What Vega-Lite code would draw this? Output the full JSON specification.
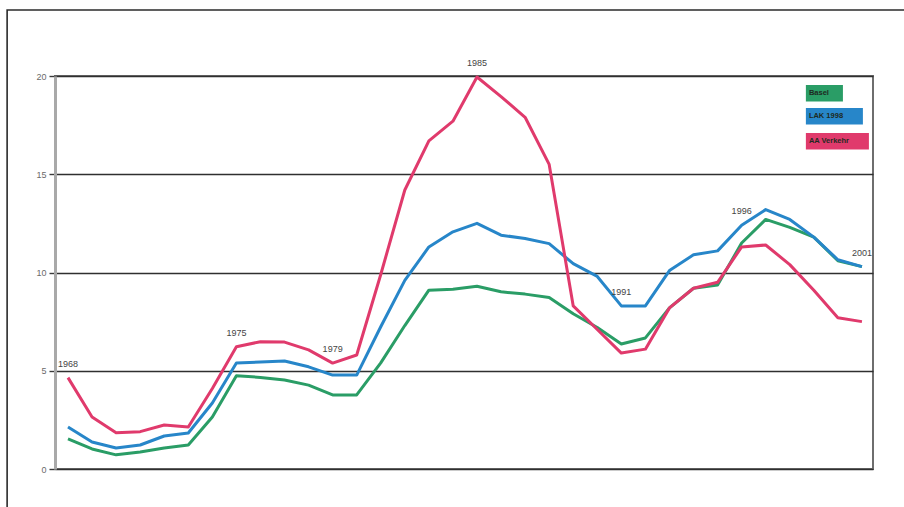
{
  "$schema": "https://vega.github.io/schema/vega-lite/v6.json",
  "width": 818,
  "height": 393,
  "autosize": {"type": "none"},
  "padding": {"left": 55, "top": 76, "right": 31, "bottom": 38},
  "background": "white",
  "config": {
    "font": "Liberation Sans",
    "view": {"stroke": "#6e6e6e", "strokeWidth": 2}
  },
  "datasets": {
    "rates": [
      {"year": 1968, "series": "Basel", "value": 1.53}, {"year": 1969, "series": "Basel", "value": 1.02},
      {"year": 1970, "series": "Basel", "value": 0.72}, {"year": 1971, "series": "Basel", "value": 0.87},
      {"year": 1972, "series": "Basel", "value": 1.07}, {"year": 1973, "series": "Basel", "value": 1.22},
      {"year": 1974, "series": "Basel", "value": 2.65}, {"year": 1975, "series": "Basel", "value": 4.75},
      {"year": 1976, "series": "Basel", "value": 4.66}, {"year": 1977, "series": "Basel", "value": 4.53},
      {"year": 1978, "series": "Basel", "value": 4.27}, {"year": 1979, "series": "Basel", "value": 3.77},
      {"year": 1980, "series": "Basel", "value": 3.77}, {"year": 1981, "series": "Basel", "value": 5.4},
      {"year": 1982, "series": "Basel", "value": 7.3}, {"year": 1983, "series": "Basel", "value": 9.1},
      {"year": 1984, "series": "Basel", "value": 9.15}, {"year": 1985, "series": "Basel", "value": 9.3},
      {"year": 1986, "series": "Basel", "value": 9.02}, {"year": 1987, "series": "Basel", "value": 8.9},
      {"year": 1988, "series": "Basel", "value": 8.73}, {"year": 1989, "series": "Basel", "value": 7.9},
      {"year": 1990, "series": "Basel", "value": 7.2}, {"year": 1991, "series": "Basel", "value": 6.36},
      {"year": 1992, "series": "Basel", "value": 6.67}, {"year": 1993, "series": "Basel", "value": 8.2},
      {"year": 1994, "series": "Basel", "value": 9.2}, {"year": 1995, "series": "Basel", "value": 9.36},
      {"year": 1996, "series": "Basel", "value": 11.5}, {"year": 1997, "series": "Basel", "value": 12.7},
      {"year": 1998, "series": "Basel", "value": 12.3}, {"year": 1999, "series": "Basel", "value": 11.8},
      {"year": 2000, "series": "Basel", "value": 10.6}, {"year": 2001, "series": "Basel", "value": 10.3},

      {"year": 1968, "series": "LAK 1998", "value": 2.14}, {"year": 1969, "series": "LAK 1998", "value": 1.37},
      {"year": 1970, "series": "LAK 1998", "value": 1.07}, {"year": 1971, "series": "LAK 1998", "value": 1.22},
      {"year": 1972, "series": "LAK 1998", "value": 1.68}, {"year": 1973, "series": "LAK 1998", "value": 1.83},
      {"year": 1974, "series": "LAK 1998", "value": 3.36}, {"year": 1975, "series": "LAK 1998", "value": 5.39},
      {"year": 1976, "series": "LAK 1998", "value": 5.44}, {"year": 1977, "series": "LAK 1998", "value": 5.5},
      {"year": 1978, "series": "LAK 1998", "value": 5.2}, {"year": 1979, "series": "LAK 1998", "value": 4.78},
      {"year": 1980, "series": "LAK 1998", "value": 4.78}, {"year": 1981, "series": "LAK 1998", "value": 7.24},
      {"year": 1982, "series": "LAK 1998", "value": 9.6}, {"year": 1983, "series": "LAK 1998", "value": 11.3},
      {"year": 1984, "series": "LAK 1998", "value": 12.07}, {"year": 1985, "series": "LAK 1998", "value": 12.5},
      {"year": 1986, "series": "LAK 1998", "value": 11.9}, {"year": 1987, "series": "LAK 1998", "value": 11.73},
      {"year": 1988, "series": "LAK 1998", "value": 11.47}, {"year": 1989, "series": "LAK 1998", "value": 10.45},
      {"year": 1990, "series": "LAK 1998", "value": 9.8}, {"year": 1991, "series": "LAK 1998", "value": 8.3},
      {"year": 1992, "series": "LAK 1998", "value": 8.3}, {"year": 1993, "series": "LAK 1998", "value": 10.1},
      {"year": 1994, "series": "LAK 1998", "value": 10.9}, {"year": 1995, "series": "LAK 1998", "value": 11.1},
      {"year": 1996, "series": "LAK 1998", "value": 12.4}, {"year": 1997, "series": "LAK 1998", "value": 13.2},
      {"year": 1998, "series": "LAK 1998", "value": 12.7}, {"year": 1999, "series": "LAK 1998", "value": 11.8},
      {"year": 2000, "series": "LAK 1998", "value": 10.65}, {"year": 2001, "series": "LAK 1998", "value": 10.3},

      {"year": 1968, "series": "AA Verkehr", "value": 4.65}, {"year": 1969, "series": "AA Verkehr", "value": 2.65},
      {"year": 1970, "series": "AA Verkehr", "value": 1.85}, {"year": 1971, "series": "AA Verkehr", "value": 1.9},
      {"year": 1972, "series": "AA Verkehr", "value": 2.24}, {"year": 1973, "series": "AA Verkehr", "value": 2.14},
      {"year": 1974, "series": "AA Verkehr", "value": 4.1}, {"year": 1975, "series": "AA Verkehr", "value": 6.22},
      {"year": 1976, "series": "AA Verkehr", "value": 6.48}, {"year": 1977, "series": "AA Verkehr", "value": 6.46},
      {"year": 1978, "series": "AA Verkehr", "value": 6.06}, {"year": 1979, "series": "AA Verkehr", "value": 5.39},
      {"year": 1980, "series": "AA Verkehr", "value": 5.8}, {"year": 1981, "series": "AA Verkehr", "value": 9.9},
      {"year": 1982, "series": "AA Verkehr", "value": 14.2}, {"year": 1983, "series": "AA Verkehr", "value": 16.7},
      {"year": 1984, "series": "AA Verkehr", "value": 17.7}, {"year": 1985, "series": "AA Verkehr", "value": 19.95},
      {"year": 1986, "series": "AA Verkehr", "value": 18.95}, {"year": 1987, "series": "AA Verkehr", "value": 17.9},
      {"year": 1988, "series": "AA Verkehr", "value": 15.5}, {"year": 1989, "series": "AA Verkehr", "value": 8.3},
      {"year": 1990, "series": "AA Verkehr", "value": 7.1}, {"year": 1991, "series": "AA Verkehr", "value": 5.9},
      {"year": 1992, "series": "AA Verkehr", "value": 6.1}, {"year": 1993, "series": "AA Verkehr", "value": 8.2},
      {"year": 1994, "series": "AA Verkehr", "value": 9.2}, {"year": 1995, "series": "AA Verkehr", "value": 9.5},
      {"year": 1996, "series": "AA Verkehr", "value": 11.3}, {"year": 1997, "series": "AA Verkehr", "value": 11.4},
      {"year": 1998, "series": "AA Verkehr", "value": 10.4}, {"year": 1999, "series": "AA Verkehr", "value": 9.1},
      {"year": 2000, "series": "AA Verkehr", "value": 7.7}, {"year": 2001, "series": "AA Verkehr", "value": 7.5}
    ],
    "keys": [{"series": "Basel"}, {"series": "LAK 1998"}, {"series": "AA Verkehr"}]
  },
  "layer": [
    {
      "data": {"values": [{"frame": 1}]},
      "transform": [
        {"calculate": "1965.47", "as": "left"},
        {"calculate": "2003.5", "as": "right"},
        {"calculate": "23.36", "as": "upper"},
        {"calculate": "-3", "as": "lower"}
      ],
      "mark": {"type": "rect", "filled": false, "stroke": "#2b2b2b", "strokeWidth": 1.6, "clip": false},
      "encoding": {
        "x": {"field": "left", "type": "quantitative", "scale": {"domain": [1967.46, 2001.46], "nice": false, "zero": false}, "axis": null},
        "x2": {"field": "right"},
        "y": {"field": "upper", "type": "quantitative", "scale": {"domain": [0, 20], "nice": false, "zero": true}},
        "y2": {"field": "lower"}
      }
    },
    {
      "data": {"name": "rates"},
      "mark": {"type": "line", "strokeWidth": 3, "strokeJoin": "round"},
      "encoding": {
        "x": {"field": "year", "type": "quantitative", "axis": null},
        "y": {
          "field": "value", "type": "quantitative",
          "axis": {
            "title": null, "values": [0, 5, 10, 15, 20], "format": "d",
            "grid": true, "gridColor": "#2f2f2f", "gridWidth": 1.4,
            "domainColor": "#a9a9a9", "domainWidth": 3,
            "tickColor": "#3a3a3a", "tickSize": 6, "tickWidth": 1.4,
            "labelFontSize": 9, "labelColor": "#6a6a6a", "labelPadding": 3
          }
        },
        "color": {
          "field": "series", "type": "nominal",
          "scale": {"domain": ["Basel", "LAK 1998", "AA Verkehr"], "range": ["#2a9d66", "#2786c9", "#e03a6c"]},
          "legend": null
        }
      }
    },
    {
      "data": {"name": "rates"},
      "transform": [
        {"aggregate": [{"op": "max", "field": "value", "as": "top"}], "groupby": ["year"]},
        {"filter": "indexof([1968, 1975, 1979, 1985, 1991, 1996, 2001], datum.year) >= 0"}
      ],
      "mark": {"type": "text", "baseline": "bottom", "align": "center", "dy": -9, "fontSize": 9, "color": "#444444"},
      "encoding": {
        "x": {"field": "year", "type": "quantitative"},
        "y": {"field": "top", "type": "quantitative"},
        "text": {"field": "year", "type": "nominal"}
      }
    },
    {
      "data": {"name": "keys"},
      "transform": [
        {"calculate": "1998.67", "as": "boxStart"},
        {"calculate": "datum.series === 'Basel' ? 2000.21 : datum.series === 'LAK 1998' ? 2001.04 : 2001.29", "as": "boxEnd"},
        {"calculate": "datum.series === 'Basel' ? 19.54 : datum.series === 'LAK 1998' ? 18.37 : 17.1", "as": "boxTop"},
        {"calculate": "datum.boxTop - 0.84", "as": "boxBottom"},
        {"calculate": "datum.boxTop - 0.42", "as": "mid"}
      ],
      "layer": [
        {
          "mark": {"type": "rect"},
          "encoding": {
            "x": {"field": "boxStart", "type": "quantitative"},
            "x2": {"field": "boxEnd"},
            "y": {"field": "boxTop", "type": "quantitative"},
            "y2": {"field": "boxBottom"},
            "color": {"field": "series", "type": "nominal", "legend": null}
          }
        },
        {
          "mark": {"type": "text", "align": "left", "baseline": "middle", "dx": 3, "fontSize": 7.5, "fontWeight": "bold", "color": "#1e2a22"},
          "encoding": {
            "x": {"field": "boxStart", "type": "quantitative"},
            "y": {"field": "mid", "type": "quantitative"},
            "text": {"field": "series", "type": "nominal"}
          }
        }
      ]
    }
  ]
}
